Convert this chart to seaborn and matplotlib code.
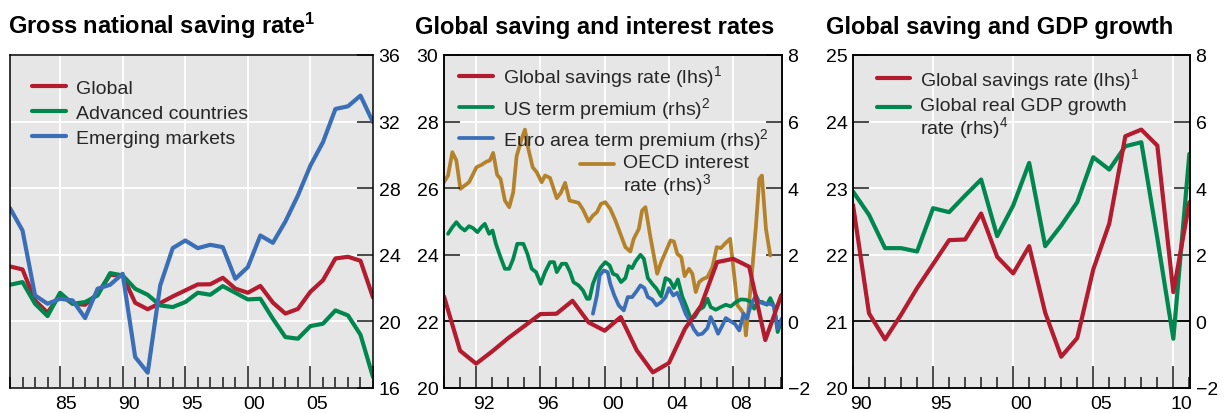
import numpy as np
import matplotlib
matplotlib.use("Agg")
import matplotlib.pyplot as plt
import seaborn as sns
from matplotlib.ticker import MultipleLocator
from matplotlib.legend_handler import HandlerLine2D
from matplotlib.lines import Line2D

# ---------------- data ----------------
global_years = list(range(1981, 2012))
global_saving = [23.30, 23.12, 21.26, 20.52, 21.60, 21.06, 21.00, 21.66, 22.80,
                 22.75, 21.12, 20.73, 21.10, 21.50, 21.86, 22.22, 22.23, 22.62,
                 21.97, 21.72, 22.13, 21.13, 20.47, 20.75, 21.78, 22.47, 23.78,
                 23.88, 23.64, 21.44, 22.79]

p1_years = list(range(1981, 2011))
advanced = [22.20, 22.36, 21.06, 20.32, 21.72, 21.06, 21.16, 21.56, 22.90, 22.76,
            21.96, 21.60, 20.96, 20.86, 21.16, 21.72, 21.60, 22.12, 21.72, 21.32,
            21.36, 20.16, 19.06, 18.96, 19.72, 19.86, 20.66, 20.36, 19.20, 16.66]
emerging = [26.80, 25.46, 21.56, 21.06, 21.36, 21.26, 20.20, 21.96, 22.20, 22.86,
            17.86, 16.92, 22.16, 24.40, 24.86, 24.40, 24.60, 24.46, 22.56, 23.26,
            25.16, 24.72, 26.00, 27.56, 29.36, 30.76, 32.76, 32.92, 33.56, 31.96]

gdp_years = list(range(1990, 2012))
gdp_growth = [3.90, 3.20, 2.20, 2.20, 2.10, 3.40, 3.28, 3.78, 4.26, 2.56, 3.48,
              4.76, 2.26, 2.88, 3.58, 4.93, 4.56, 5.26, 5.38, 2.50, -0.52, 5.03]

oecd_t = [1990.00, 1990.25, 1990.52, 1990.77, 1991.02, 1991.29, 1991.56, 1992.02,
          1992.33, 1992.65, 1992.85, 1993.06, 1993.31, 1993.52, 1993.79, 1994.06,
          1994.31, 1994.52, 1994.83, 1995.04, 1995.25, 1995.52, 1995.77, 1996.08,
          1996.29, 1996.60, 1997.02, 1997.27, 1997.54, 1997.81, 1998.06, 1998.38,
          1998.65, 1999.00, 1999.27, 1999.52, 1999.77, 2000.04, 2000.35, 2000.67,
          2000.98, 2001.29, 2001.60, 2001.81, 2002.13, 2002.33, 2002.54, 2002.85,
          2003.27, 2003.52, 2003.79, 2004.10, 2004.31, 2004.52, 2004.77, 2004.98,
          2005.25, 2005.46, 2005.67, 2005.88, 2006.08, 2006.40, 2006.71, 2006.98,
          2007.23, 2007.54, 2007.81, 2008.02, 2008.27, 2008.52, 2008.69, 2008.79,
          2009.00, 2009.21, 2009.42, 2009.63, 2009.79, 2010.04, 2010.31]
oecd_rate = [4.18, 4.38, 5.08, 4.83, 3.98, 4.08, 4.18, 4.63,
             4.70, 4.80, 4.83, 5.06, 4.40, 4.28, 3.63, 3.43,
             3.88, 4.96, 5.48, 5.76, 5.18, 4.63, 4.48, 4.18,
             4.38, 4.31, 3.70, 3.86, 4.16, 3.63, 3.60, 3.56,
             3.36, 3.00, 3.18, 3.28, 3.53, 3.58, 3.38, 3.03,
             2.63, 2.23, 2.10, 2.48, 2.78, 3.33, 3.43, 2.53,
             1.43, 1.78, 2.08, 2.43, 2.40, 2.03, 1.93, 1.36,
             1.58, 1.43, 0.88, 1.18, 1.26, 1.33, 1.63, 2.23,
             2.20, 2.36, 2.48, 1.58, 0.48, 0.33, 0.18, -0.42,
             0.58, 1.68, 2.88, 4.28, 4.38, 2.78, 1.98]

us_t = [1990.25, 1990.52, 1990.77, 1991.02, 1991.29, 1991.56, 1991.81, 1992.08,
        1992.33, 1992.54, 1992.81, 1993.02, 1993.23, 1993.48, 1993.79, 1994.06,
        1994.31, 1994.56, 1994.94, 1995.19, 1995.46, 1995.73, 1996.02, 1996.29,
        1996.60, 1996.85, 1997.02, 1997.33, 1997.60, 1997.85, 1998.06, 1998.38,
        1998.65, 1998.90, 1999.06, 1999.27, 1999.52, 1999.77, 2000.04, 2000.31,
        2000.52, 2000.77, 2001.02, 2001.29, 2001.50, 2001.71, 2001.92, 2002.23,
        2002.44, 2002.69, 2002.96, 2003.23, 2003.52, 2003.79, 2004.06, 2004.31,
        2004.56, 2004.83, 2005.10, 2005.35, 2005.60, 2005.88, 2006.15, 2006.40,
        2006.60, 2006.92, 2007.23, 2007.54, 2007.85, 2008.17, 2008.48, 2008.79,
        2009.06, 2009.31, 2009.52, 2009.83, 2010.10, 2010.31, 2010.56, 2010.77,
        2010.98]
us_tp = [2.63, 2.83, 2.98, 2.83, 2.73, 2.86, 2.80, 2.68,
         2.83, 2.93, 2.63, 2.73, 2.33, 1.98, 1.58, 1.58,
         1.88, 2.33, 2.33, 2.03, 1.58, 1.48, 1.13, 1.48,
         1.78, 1.78, 1.48, 1.73, 1.73, 1.48, 1.18, 1.08,
         0.93, 0.68, 0.68, 1.13, 1.43, 1.63, 1.78, 1.68,
         1.43, 1.38, 1.18, 1.30, 1.66, 1.60, 1.80, 2.00,
         1.88, 1.30, 1.13, 0.98, 0.75, 1.30, 1.23, 1.00,
         1.26, 0.75, 0.43, 0.10, 0.13, 0.35, 0.43, 0.68,
         0.43, 0.35, 0.43, 0.50, 0.45, 0.58, 0.66, 0.65,
         0.60, 0.38, 0.60, 0.58, 0.50, 0.70, 0.43, -0.32,
         -0.02]

euro_t = [1999.27, 1999.52, 1999.69, 1999.94, 2000.19, 2000.35, 2000.60, 2000.88,
          2001.19, 2001.44, 2001.71, 2001.98, 2002.23, 2002.48, 2002.69, 2002.96,
          2003.23, 2003.52, 2003.79, 2004.00, 2004.27, 2004.52, 2004.77, 2005.04,
          2005.31, 2005.56, 2005.81, 2006.08, 2006.40, 2006.60, 2006.85, 2007.06,
          2007.33, 2007.54, 2007.85, 2008.10, 2008.38, 2008.65, 2008.85, 2009.10,
          2009.42, 2009.63, 2009.94, 2010.25, 2010.52, 2010.77, 2011.02]
euro_tp = [0.23, 0.78, 1.38, 1.53, 1.48, 1.13, 0.78, 0.48,
           0.33, 0.73, 0.73, 0.90, 1.08, 1.00, 0.73, 0.66,
           0.48, 0.58, 0.73, 1.00, 0.78, 0.86, 0.58, 0.23,
           0.00, -0.24, -0.40, -0.37, -0.20, 0.13, -0.12, -0.37,
           -0.12, 0.10, 0.00, -0.07, -0.27, 0.23, 0.08, 0.48,
           0.78, 0.58, 0.53, 0.53, 0.48, -0.22, 0.08]

titles = ["Gross national saving rate$^1$",
          "Global saving and interest rates",
          "Global saving and GDP growth"]
p1_lab_years = [1985, 1990, 1995, 2000, 2005]
p1_labels = ["85", "90", "95", "00", "05"]
p2_lab_years = [1992, 1996, 2000, 2004, 2008]
p2_labels = ["92", "96", "00", "04", "08"]
p3_lab_years = [1990, 1995, 2000, 2005, 2010]
p3_labels = ["90", "95", "00", "05", "10"]
p1_legend = ["Global", "Advanced countries", "Emerging markets"]
p2_legend = ["Global savings rate (lhs)$^1$", "US term premium (rhs)$^2$",
             "Euro area term premium (rhs)$^2$", "OECD interest\nrate (rhs)$^3$"]
p3_legend = ["Global savings rate (lhs)$^1$", "Global real GDP growth\nrate (rhs)$^4$"]

# ---------------- style ----------------
RED = "#b31b2f"
GREEN = "#00874f"
BLUE = "#3a6fb7"
GOLD = "#b3822b"
BG = "#e6e6e6"
TICK = "#1a1a1a"
FS = 14

sns.set_theme(style="white")
plt.rcParams["font.family"] = ["Liberation Sans", "DejaVu Sans"]
plt.rcParams["mathtext.default"] = "regular"
plt.rcParams["axes.unicode_minus"] = True

W, H = 1229, 414
fig = plt.figure(figsize=(W / 100, H / 100), dpi=100)
fig.patch.set_facecolor("white")


def rect(l, t, r, b):
    return [l / W, 1 - b / H, (r - l) / W, (b - t) / H]


class FirstLineHandler(HandlerLine2D):
    def __init__(self, dy, **kw):
        super().__init__(**kw)
        self.dy = dy

    def create_artists(self, legend, orig_handle, xdescent, ydescent, width,
                       height, fontsize, trans):
        arts = super().create_artists(legend, orig_handle, xdescent, ydescent,
                                      width, height, fontsize, trans)
        for a in arts:
            if isinstance(a, Line2D):
                a.set_ydata(np.asarray(a.get_ydata(), float) + self.dy)
        return arts


def base_style(ax, xlim, ylim, major, lab_years, labs, grid_ax=None):
    ax.set_xlim(*xlim)
    ax.set_ylim(*ylim)
    ax.xaxis.set_major_locator(MultipleLocator(major))
    ax.xaxis.set_minor_locator(MultipleLocator(1))
    ax.tick_params(axis="x", which="major", direction="in", length=16, width=1.1,
                   color=TICK, bottom=True, top=False, labelbottom=False)
    ax.tick_params(axis="x", which="minor", direction="in", length=8, width=1.1,
                   color=TICK, bottom=True, top=False, labelbottom=False)
    if grid_ax is None:
        ax.set_facecolor(BG)
        ax.set_axisbelow(True)
        ax.grid(True, axis="both", which="major", color="white", lw=1.3)
    else:
        # background and grid live on the lower (rhs) axes
        ax.grid(False)
        ax.patch.set_visible(False)
        ax.set_zorder(grid_ax.get_zorder() + 1)
        grid_ax.patch.set_visible(True)
        grid_ax.set_facecolor(BG)
        grid_ax.xaxis.set_visible(True)
        grid_ax.tick_params(axis="x", which="both", bottom=False, top=False,
                            labelbottom=False, labeltop=False)
        grid_ax.set_axisbelow(True)
        grid_ax.grid(True, axis="both", which="major", color="white", lw=1.3)
        grid_ax.set_xlabel("")
        grid_ax.set_ylabel("")
        for s in grid_ax.spines.values():
            s.set_color("black")
            s.set_linewidth(1.1)
    for s in ax.spines.values():
        s.set_visible(True)
        s.set_color("black")
        s.set_linewidth(1.1)
    sec = ax.secondary_xaxis("bottom")
    sec.set_xticks([y + 0.5 for y in lab_years], labels=labs)
    sec.tick_params(length=0, pad=5, labelsize=FS, colors="black")
    sec.spines["bottom"].set_visible(False)
    ax.set_xlabel("")
    ax.set_ylabel("")


def ytick_style(ax, side):
    ax.tick_params(axis="y", which="major", direction="in", length=11.5, width=1.1,
                   color=TICK, labelsize=FS, labelcolor="black", pad=4,
                   left=(side == "left"), right=(side == "right"),
                   labelleft=(side == "left"), labelright=(side == "right"))


def leg_kw(spacing):
    return dict(loc="upper left", frameon=False, fontsize=FS, handlelength=1.73,
                handletextpad=0.5, labelspacing=spacing, borderpad=0,
                borderaxespad=0)


# ---------------- panel 1 ----------------
ax1 = fig.add_axes(rect(10, 56, 373, 389))
sns.lineplot(x=global_years, y=global_saving, ax=ax1, color=RED, lw=3.0,
             estimator=None, label=p1_legend[0], legend=False)
sns.lineplot(x=p1_years, y=advanced, ax=ax1, color=GREEN, lw=3.0,
             estimator=None, label=p1_legend[1], legend=False)
sns.lineplot(x=p1_years, y=emerging, ax=ax1, color=BLUE, lw=3.0,
             estimator=None, label=p1_legend[2], legend=False)
base_style(ax1, (1981, 2010), (16, 36), 5, p1_lab_years, p1_labels)
ax1.set_yticks(np.arange(16, 37, 4))
ax1.yaxis.tick_right()
ytick_style(ax1, "right")
h, l = ax1.get_legend_handles_labels()
ax1.legend(h, l, bbox_to_anchor=(0.0614, 0.926), **leg_kw(0.38))

# ---------------- panel 2 ----------------
ax2 = fig.add_axes(rect(444, 56, 782, 389))
ax2r = ax2.twinx()
L2, R2 = (20, 30), (-2, 8)
sns.lineplot(x=oecd_t, y=oecd_rate, ax=ax2r, color=GOLD, lw=2.7,
             estimator=None, label=p2_legend[3], legend=False)
sns.lineplot(x=us_t, y=us_tp, ax=ax2r, color=GREEN, lw=2.7,
             estimator=None, label=p2_legend[1], legend=False)
sns.lineplot(x=euro_t, y=euro_tp, ax=ax2r, color=BLUE, lw=2.7,
             estimator=None, label=p2_legend[2], legend=False)
sns.lineplot(x=global_years, y=global_saving, ax=ax2, color=RED, lw=3.0,
             estimator=None, label=p2_legend[0], legend=False)
ax2r.set_ylim(*R2)
ax2r.set_yticks(np.arange(-2, 9, 2))
ytick_style(ax2r, "right")
base_style(ax2, (1990, 2011.04), L2, 4, p2_lab_years, p2_labels, grid_ax=ax2r)
ax2.set_yticks(np.arange(20, 31, 2))
ytick_style(ax2, "left")
ax2r.axhline(0, color="black", lw=1.2, zorder=1.5)
hl, ll = ax2.get_legend_handles_labels()
hr, lr = ax2r.get_legend_handles_labels()
red2 = hl[0]
gold2, green2, blue2 = hr
leg_a = ax2.legend([red2, green2, blue2], [p2_legend[0], p2_legend[1], p2_legend[2]],
                   bbox_to_anchor=(0.0453, 0.9748), **leg_kw(0.28))
ax2.add_artist(leg_a)
leg_b = ax2.legend([gold2], [p2_legend[3]], bbox_to_anchor=(0.4024, 0.7036),
                   handler_map={gold2: FirstLineHandler(7.8)}, **leg_kw(0.28))
for t in leg_b.get_texts():
    t.set_linespacing(1.0)

# ---------------- panel 3 ----------------
ax3 = fig.add_axes(rect(853, 56, 1190, 389))
ax3r = ax3.twinx()
L3, R3 = (20, 25), (-2, 8)
sns.lineplot(x=gdp_years, y=gdp_growth, ax=ax3r, color=GREEN, lw=3.0,
             estimator=None, label=p3_legend[1], legend=False)
sns.lineplot(x=global_years, y=global_saving, ax=ax3, color=RED, lw=3.0,
             estimator=None, label=p3_legend[0], legend=False)
ax3r.set_ylim(*R3)
ax3r.set_yticks(np.arange(-2, 9, 2))
ytick_style(ax3r, "right")
base_style(ax3, (1990, 2011.04), L3, 5, p3_lab_years, p3_labels, grid_ax=ax3r)
ax3.set_yticks(np.arange(20, 26, 1))
ytick_style(ax3, "left")
ax3r.axhline(0, color="black", lw=1.2, zorder=1.5)
hl, _ = ax3.get_legend_handles_labels()
hr, _ = ax3r.get_legend_handles_labels()
leg3 = ax3.legend([hl[0], hr[0]], p3_legend, bbox_to_anchor=(0.0703, 0.968),
                  handler_map={hr[0]: FirstLineHandler(7.8)}, **leg_kw(0.28))
for t in leg3.get_texts():
    t.set_linespacing(1.0)

# ---------------- titles ----------------
for x, t in zip([8, 415, 826], titles):
    fig.text(x / W, 1 - 34 / H, t, fontsize=17, fontweight="bold",
             ha="left", va="baseline", color="black")

fig.savefig("out.png", dpi=100, facecolor="white")
